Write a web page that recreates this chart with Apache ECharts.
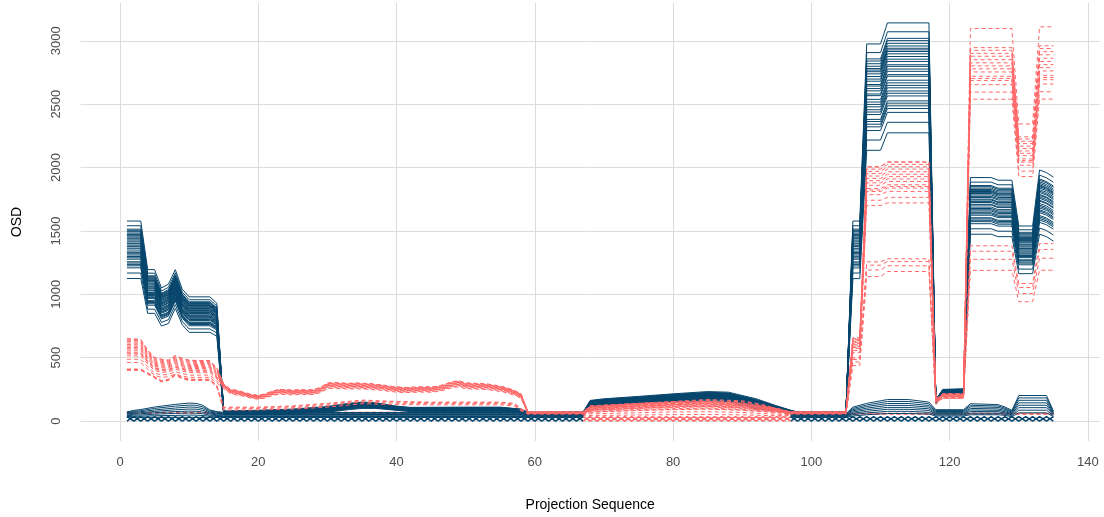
<!DOCTYPE html>
<html><head><meta charset="utf-8">
<script src="https://cdn.jsdelivr.net/npm/echarts@6/dist/echarts.min.js"></script>
<style>html,body{margin:0;padding:0;background:#fff}#c{width:1104px;height:517px}</style>
</head><body><div id="c"></div>
<script>
// ---- axis ticks ----
const xTickLabels = [0, 20, 40, 60, 80, 100, 120, 140];
const yTickLabels = [0, 500, 1000, 1500, 2000, 2500, 3000];

// ---- blue upper family (solid): knot x, top-line and bottom-line values, line positions in bundle ----
const blueHiX   = [1,3,4,5,6,7,8,9,10,13, 14,15,20,25,30,33,35,37,40,42, 50,55,57,58,59,67,68,70,75,80, 85,88,92,95,97,98,105,106,107,108, 110,111,117,118,119,122,123,126,127,129, 130,132,133,134,135];
const blueHiTop = [1578,1578,1195,1195,1050,1080,1195,1040,980,980, 930,80,85,95,115,140,150,145,118,108, 110,110,100,95,70,72,163,176,195,215, 233,228,176,120,86,72,72,1578,1578,2975, 2975,3141,3141,170,250,255,1921,1921,1900,1900, 1539,1539,1981,1960,1925];
const blueHiBot = [1125,1125,850,850,750,770,890,760,700,700, 670,55,55,60,70,90,100,100,85,75, 75,75,70,65,55,55,111,120,135,150, 160,155,98,80,60,55,55,1124,1124,2136, 2136,2274,2274,140,215,220,1474,1474,1455,1455, 1163,1163,1474,1455,1420];
const blueHiRank = [1,0.919,0.859,0.839,0.814,0.79,0.769,0.754,0.739,0.719,0.694,0.67,0.649,0.619,0.604,0.58,0.559,0.529,0.514,0.479,0.454,0.431,0.409,0.381,0.36,0.336,0.291,0.27,0.246,0.221,0.186,0.096,0];

// ---- blue lower family (solid) ----
const blueLoX   = [1,2,3,5,8,10,11,12,13,14, 15,58,59,67,68,96,97,105,106,108, 111,114,117,118,122,123,127,128,129,130, 134,135];
const blueLoTop = [72,85,91,111,132,142,140,124,88,75, 68,68,58,58,null,null,58,58,110,140, 170,170,150,90,90,137,130,111,85,202, 202,80];
const blueLoBot = [30,30,30,30,30,30,30,30,30,30, 30,30,30,30,null,null,30,30,40,50, 60,60,55,40,40,50,50,45,35,65, 65,35];
const blueLoRank = [1,0.86,0.72,0.58,0.44,0.3,0.15,0];

// ---- red upper family (dashed) ----
const redHiX = [1,3,4,5,6,7,8,9,10,13,14,
  15,16,17,18,19,20,21,22,23,24,25,26,27,28,29,30,31,32,33,34,35,36,37,38,39,40,41,42,43,44,45,46,47,48,49,50,51,52,53,54,55,56,57,58,
  59,67,68,75,80,85,90,95,97,105,
  106,107,108,110,111,117,118,119,122,123,129,130,132,133,135];
// highest red line (stands apart on the right)
const redHiOuter = [650,645,560,500,488,480,516,495,480,477,420,
  293,250,241,225,210,202,215,235,250,248, 243,247,245,248,265,300,303,300,297,300, 298,296,290,285,275,270,265,266,268,270, 268,275,290,310,318,300,298,296,293,285, 275,262,242,215,
  72,72,120,140,150,155,140,100,72,72,
  656,656,2007,2007,2045,2045,170,215,215,3097,3097,2344,2344,3110,3110];
// top of the main red bundle
const redHiTop = [650,645,560,500,488,480,516,495,480,477,420,
  293,250,241,225,210,202,215,235,250,248, 243,247,245,248,265,300,303,300,297,300, 298,296,290,285,275,270,265,266,268,270, 268,275,290,310,318,300,298,296,293,285, 275,262,242,215,
  72,72,120,140,150,155,140,100,72,72,
  656,656,2007,2007,2045,2045,170,215,215,2950,2950,2245,2245,2965,2965];
const redHiBot = [462,462,410,360,345,350,370,355,345,345,300,
  255,215,205,195,180,172,182,200,212,210, 207,210,208,210,225,255,258,255,252,255, 253,250,246,242,234,229,225,226,228,229, 228,234,246,263,270,255,253,251,249,242, 234,222,205,180,
  60,60,70,85,90,95,85,70,60,60,
  540,540,1700,1700,1721,1721,150,180,180,2539,2539,1929,1929,2540,2540];
const redHiRank = [0.99,0.938,0.88,0.824,0.759,0.698,0.639,0.583,0.522,0.441,0.4,0.361,0.281,0.136,0];

// ---- red middle family (dashed) ----
const redMidX   = [1,3,4,5,6,7,8,9,10,13, 14,15,20,25,30,35,40,45,55,57, 58,59,67,68,70,75,80,85,90,93, 96,97,105,106,107,108,110,111,117,118, 119,122,123,129,130,132,133,135];
const redMidTop = [410,410,380,350,319,330,370,345,330,330, 280,110,110,120,140,166,155,150,150,140, 100,62,62,110,120,140,155,170,160,130, 80,62,62,500,500,1256,1256,1280,1280,150, 200,200,1383,1383,1085,1085,1400,1400];
const redMidBot = [400,400,370,340,309,320,360,335,320,320, 270,85,88,95,110,137,130,128,128,120, 80,55,55,90,100,115,130,140,130,110, 70,55,55,438,438,1140,1140,1180,1180,130, 180,180,1189,1189,942,942,1190,1190];
const redMidRank = [1,0.78,0.45,0];

// ---- red low family (dashed) ----
const redLoX   = [1,58,59,67,68,75,80,85,90,95,97,105,106,135];
const redLoTop = [70,70,62,62,100,120,135,140,125,90,62,62,62,62];
const redLoBot = [62,62,50,45,30,30,30,30,30,30,45,50,55,55];
const redLoRank = [1,0.8,0.6,0.4,0.2,0];

// ---- near-zero zigzag lines (x = 1..135) ----
const hatchBlueA = [
0,35,0,35,0,35,0,35,0,35, 0,35,0,35,0,35,0,35,0,35,
0,35,0,35,0,35,0,35,0,35, 0,35,0,35,0,35,0,35,0,35,
0,35,0,35,0,35,0,35,0,35, 0,35,0,35,0,35,0,35,0,35,
0,35,0,35,0,35,0,
null,null,null,null,null,null,null,null,null,null,null,null,null,null,null,
null,null,null,null,null,null,null,null,null,null,null,null,null,null,
0,35,0,35,
0,35,0,35,0,35,0,35,0,35, 0,35,0,35,0,35,0,35,0,35,
0,35,0,35,0,35,0,35,0,35, 0,35,0,35,0];
const hatchBlueB = [
35,0,35,0,35,0,35,0,35,0, 35,0,35,0,35,0,35,0,35,0,
35,0,35,0,35,0,35,0,35,0, 35,0,35,0,35,0,35,0,35,0,
35,0,35,0,35,0,35,0,35,0, 35,0,35,0,35,0,35,0,35,0,
35,0,35,0,35,0,35,
null,null,null,null,null,null,null,null,null,null,null,null,null,null,null,
null,null,null,null,null,null,null,null,null,null,null,null,null,null,
35,0,35,0,
35,0,35,0,35,0,35,0,35,0, 35,0,35,0,35,0,35,0,35,0,
35,0,35,0,35,0,35,0,35,0, 35,0,35,0,35];
const hatchRedStart = 67;
const hatchRedA = [0,35,0,35,0,35,0,35,0,35, 0,35,0,35,0,35,0,35,0,35, 0,35,0,35,0,35,0,35,0,35, 0];
const hatchRedB = [35,0,35,0,35,0,35,0,35,0, 35,0,35,0,35,0,35,0,35,0, 35,0,35,0,35,0,35,0,35,0, 35];

// ---- build ----
const BLUE = '#07466c', RED = '#ff6868';
function bundle(xs, top, bot, ranks) {
  return ranks.map(r => xs.map((x, k) => [x, top[k] == null ? '-' : Math.round(bot[k] + r * (top[k] - bot[k]))]));
}
function knots(xs, vals) { return xs.map((x, k) => [x, vals[k] == null ? '-' : vals[k]]); }
function seq(vals, start) { return vals.map((v, i) => [start + i, v == null ? '-' : v]); }
const series = [];
function add(lines, color, dashed, width) {
  lines.forEach(d => series.push({
    type: 'line', data: d, symbol: 'none', showSymbol: false, silent: true, animation: false,
    emphasis: { disabled: true }, connectNulls: false,
    lineStyle: { color: color, width: width, type: dashed ? [4, 3] : 'solid' }
  }));
}
add(bundle(redLoX, redLoTop, redLoBot, redLoRank), RED, true, 1);
add([seq(hatchBlueA, 1), seq(hatchBlueB, 1)], BLUE, false, 1.6);
add([seq(hatchRedA, hatchRedStart), seq(hatchRedB, hatchRedStart)], RED, false, 1.4);
add(bundle(blueLoX, blueLoTop, blueLoBot, blueLoRank), BLUE, false, 1);
add(bundle(blueHiX, blueHiTop, blueHiBot, blueHiRank), BLUE, false, 1);
add([knots(redHiX, redHiOuter)], RED, true, 1);
add(bundle(redHiX, redHiTop, redHiBot, redHiRank), RED, true, 1);
add(bundle(redMidX, redMidTop, redMidBot, redMidRank), RED, true, 1);

const FONT = "'Liberation Sans', Arial, sans-serif";
const chart = echarts.init(document.getElementById('c'), null, { renderer: 'canvas' });
chart.setOption({
  animation: false,
  backgroundColor: '#ffffff',
  grid: { left: 80.6, right: 4.3, top: 0.85, bottom: 72.55, containLabel: false },
  xAxis: {
    type: 'value', min: -5.7, max: 141.7, minInterval: 20, maxInterval: 20,
    axisLine: { show: false }, axisTick: { show: false },
    splitLine: { show: true, showMinLine: false, showMaxLine: false, lineStyle: { color: '#dcdcdc', width: 1 } },
    axisLabel: { margin: 15, fontSize: 13, color: '#4d4d4d', fontFamily: FONT,
      formatter: v => (xTickLabels.indexOf(Math.round(v * 1000) / 1000) >= 0 ? String(Math.round(v)) : '') },
    name: 'Projection Sequence', nameLocation: 'middle', nameGap: 57,
    nameTextStyle: { fontSize: 14, color: '#000', fontFamily: FONT }
  },
  yAxis: {
    type: 'value', min: -157, max: 3298, minInterval: 500, maxInterval: 500,
    axisLine: { show: false }, axisTick: { show: false },
    splitLine: { show: true, showMinLine: false, showMaxLine: false, lineStyle: { color: '#dcdcdc', width: 1 } },
    axisLabel: { margin: 18, fontSize: 13, color: '#4d4d4d', rotate: 90, fontFamily: FONT,
      formatter: v => (yTickLabels.indexOf(Math.round(v)) >= 0 && Math.abs(v - Math.round(v)) < 1e-6 ? String(Math.round(v)) : '') },
    name: 'OSD', nameLocation: 'middle', nameGap: 56, nameRotate: 90,
    nameTextStyle: { fontSize: 14, color: '#000', fontFamily: FONT }
  },
  series: series
});
</script>
</body></html>
